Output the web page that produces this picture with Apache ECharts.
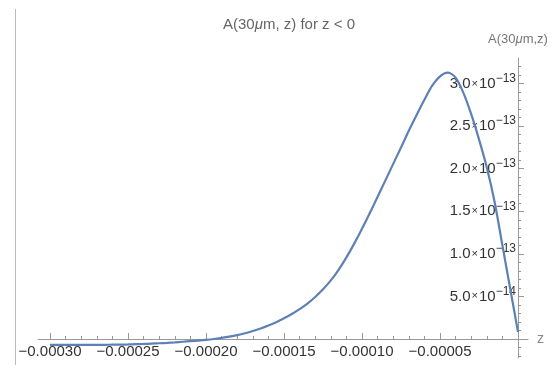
<!DOCTYPE html>
<html>
<head>
<meta charset="utf-8">
<script src="https://cdn.jsdelivr.net/npm/echarts@6/dist/echarts.min.js"></script>
<style>
html,body{margin:0;padding:0;background:#fff;}
#chart{width:557px;height:369px;}
</style>
</head>
<body>
<div id="chart"></div>
<script>
// z positions (m), every 5 µm
const zValues = [
  -0.000300, -0.000295, -0.000290, -0.000285, -0.000280, -0.000275, -0.000270, -0.000265, -0.000260, -0.000255,
  -0.000250, -0.000245, -0.000240, -0.000235, -0.000230, -0.000225, -0.000220, -0.000215, -0.000210, -0.000205,
  -0.000200, -0.000195, -0.000190, -0.000185, -0.000180, -0.000175, -0.000170, -0.000165, -0.000160, -0.000155,
  -0.000150, -0.000145, -0.000140, -0.000135, -0.000130, -0.000125, -0.000120, -0.000115, -0.000110, -0.000105,
  -0.000100, -0.000095, -0.000090, -0.000085, -0.000080, -0.000075, -0.000070, -0.000065, -0.000060, -0.000055,
  -0.000050, -0.000045, -0.000040, -0.000035, -0.000030, -0.000025, -0.000020, -0.000015, -0.000010, -0.000005,
  0.0
];
// A(30µm, z)
const aValues = [
  -7.0e-15, -7.0e-15, -7.0e-15, -7.0e-15, -7.0e-15, -6.9e-15, -6.9e-15, -6.8e-15, -6.7e-15, -6.6e-15,
  -6.4e-15, -6.1e-15, -5.8e-15, -5.4e-15, -5.0e-15, -4.5e-15, -3.9e-15, -3.2e-15, -2.5e-15, -1.8e-15,
  -1.0e-15, 0.0, 1.3e-15, 2.8e-15, 4.6e-15, 6.8e-15, 9.4e-15, 12.4e-15, 15.9e-15, 19.8e-15,
  24.3e-15, 29.4e-15, 35.1e-15, 41.6e-15, 49.3e-15, 58.3e-15, 68.8e-15, 81.2e-15, 95.8e-15, 112e-15,
  129.5e-15, 148e-15, 167e-15, 186.3e-15, 205.7e-15, 225e-15, 244.5e-15, 263e-15, 281e-15, 297.5e-15,
  308.5e-15, 312.8e-15, 307e-15, 289e-15, 264e-15, 234.5e-15, 201.5e-15, 161e-15, 110e-15, 59e-15,
  8.2e-15
];
// tick labels / tick positions
const xMajorTicks = [-0.00030, -0.00025, -0.00020, -0.00015, -0.00010, -0.00005];
const xMinorStep = 1e-5;
const yMajorTicks = [5e-14, 1e-13, 1.5e-13, 2e-13, 2.5e-13, 3e-13];
const yMinorStep = 1e-14;
// axis extents
const xMin = -0.0003077, xMax = 0.0000064;
const yMin = -2.23e-14, yMax = 3.3e-13;

const xMinorTicks = [];
for (let k = -30; k <= 0; k++) if (k % 5 !== 0) xMinorTicks.push(k * xMinorStep);
const yMinorTicks = [];
for (let k = -2; k <= 32; k++) if (k % 5 !== 0) yMinorTicks.push(k * yMinorStep);

const chart = echarts.init(document.getElementById('chart'));
const font = '"Liberation Sans", Arial, sans-serif';
const axisColor = '#999';
const GRID = { left: 38, right: 29, top: 58, bottom: 11 };

function xFmt(v) {
  return v.toFixed(5).replace('-', '\u2212');
}
function yFmt(v) {
  const e = Math.floor(Math.log10(v) + 1e-9);
  const m = v / Math.pow(10, e);
  return '{m|' + m.toFixed(1) + '}{x|\u00d7}{m|10}{s|\u2212' + (-e) + '}';
}

const data = zValues.map((z, i) => [z, aValues[i]]);

chart.setOption({
  animation: false,
  title: {
    text: 'A(30{i|\u03bc}m, z) for z < 0',
    left: 284, top: 12, textAlign: 'center',
    textStyle: {
      fontFamily: font, fontSize: 15, fontWeight: 'normal', color: '#666',
      rich: { i: { fontFamily: font, fontSize: 15, fontStyle: 'italic', color: '#666' } }
    }
  },
  grid: Object.assign({ containLabel: false, outerBoundsMode: 'none' }, GRID),
  xAxis: [{
    type: 'value', min: xMin, max: xMax, position: 'bottom',
    name: 'z', nameLocation: 'end', nameGap: 9,
    nameTextStyle: { fontFamily: font, fontSize: 14, color: '#888', verticalAlign: 'middle' },
    axisLine: { onZero: false, lineStyle: { color: axisColor, width: 1 } },
    axisTick: { inside: true, length: 6, customValues: xMajorTicks, lineStyle: { color: axisColor } },
    axisLabel: { customValues: xMajorTicks, formatter: xFmt, margin: 5, fontFamily: font, fontSize: 15, color: '#333' },
    splitLine: { show: false }
  }, {
    type: 'value', min: xMin, max: xMax, position: 'bottom',
    axisLine: { show: false, onZero: false },
    axisTick: { inside: true, length: 3, customValues: xMinorTicks, lineStyle: { color: axisColor } },
    axisLabel: { show: false },
    splitLine: { show: false }
  }],
  yAxis: [{
    type: 'value', min: yMin, max: yMax, position: 'left',
    name: 'A(30{i|\u03bc}m,z)', nameLocation: 'end', nameGap: 12,
    nameTextStyle: { fontFamily: font, fontSize: 13, color: '#777', align: 'center',
      rich: { i: { fontFamily: font, fontSize: 13, fontStyle: 'italic', color: '#777' } } },
    axisLine: { onZero: false, lineStyle: { color: axisColor, width: 1 } },
    axisTick: { inside: true, length: 6, customValues: yMajorTicks, lineStyle: { color: axisColor } },
    axisLabel: {
      customValues: yMajorTicks, formatter: yFmt, margin: 2, color: '#333', fontFamily: font,
      rich: {
        m: { fontFamily: font, fontSize: 15, color: '#333' },
        x: { fontFamily: font, fontSize: 11, color: '#333', padding: [0, 1, 0, 1] },
        s: { fontFamily: font, fontSize: 12, color: '#333', padding: [0, 0, 10, 0] }
      }
    },
    splitLine: { show: false }
  }, {
    type: 'value', min: yMin, max: yMax, position: 'left',
    axisLine: { show: false, onZero: false },
    axisTick: { inside: true, length: 3, customValues: yMinorTicks, lineStyle: { color: axisColor } },
    axisLabel: { show: false },
    splitLine: { show: false }
  }],
  series: [{
    type: 'line',
    xAxisIndex: 0, yAxisIndex: 0,
    data: data,
    smooth: 0.3,
    showSymbol: false,
    lineStyle: { color: '#5E81B5', width: 2.2 },
    z: 3
  }],
  graphic: [{
    type: 'line',
    shape: { x1: 15.5, y1: 9, x2: 15.5, y2: 365 },
    style: { stroke: '#bbb', lineWidth: 1 }
  }]
});

// move both axes to the origin (0, 0) of the plot
const origin = chart.convertToPixel({ xAxisIndex: 0, yAxisIndex: 0 }, [0, 0]);
const gridBottomY = 369 - GRID.bottom;
const xOff = origin[1] - gridBottomY;
const yOff = GRID.left - origin[0];
chart.setOption({
  xAxis: [{ offset: xOff }, { offset: xOff }],
  yAxis: [{ offset: yOff }, { offset: yOff }]
});
</script>
</body>
</html>
